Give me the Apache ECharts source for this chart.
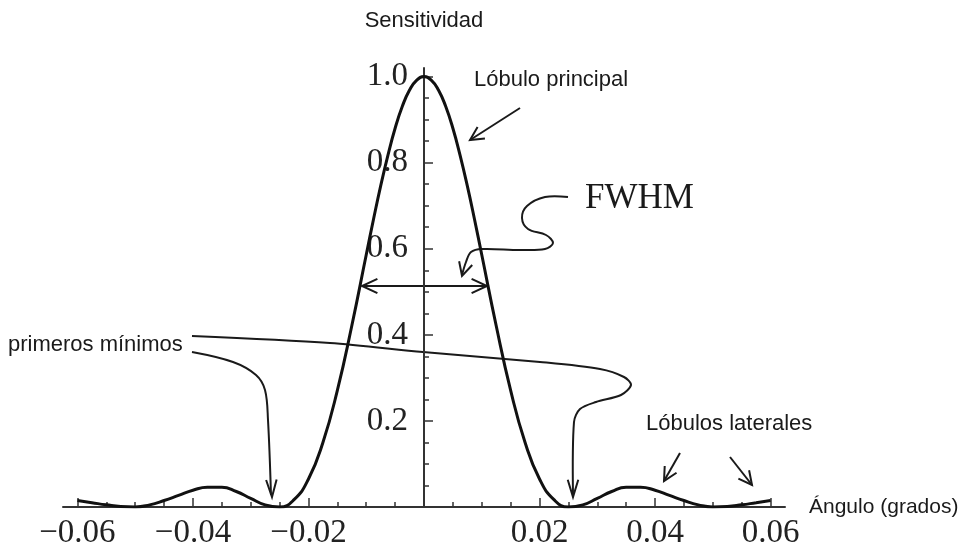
<!DOCTYPE html>
<html>
<head>
<meta charset="utf-8">
<script src="https://cdn.jsdelivr.net/npm/echarts@6/dist/echarts.min.js"></script>
<style>
  html, body { margin: 0; padding: 0; background: #ffffff; }
  #chart { width: 961px; height: 551px; }
</style>
</head>
<body>
<div id="chart"></div>
<script>
// Beam sensitivity versus off-axis angle (degrees)
const angles = [
  -0.06, -0.0575, -0.055, -0.0525, -0.05, -0.0475, -0.045, -0.0425, -0.04, -0.0375,
  -0.035, -0.0325, -0.03, -0.0275, -0.025, -0.0225, -0.02, -0.0175, -0.015, -0.0125,
  -0.01, -0.00875, -0.0075, -0.00625, -0.005, -0.00375, -0.0025, -0.00125, 0,
  0.00125, 0.0025, 0.00375, 0.005, 0.00625, 0.0075, 0.00875, 0.01,
  0.0125, 0.015, 0.0175, 0.02, 0.0225, 0.025,
  0.0275, 0.03, 0.0325, 0.035, 0.0375, 0.04, 0.0425, 0.045, 0.0475, 0.05,
  0.0525, 0.055, 0.0575, 0.06
];
const sensitivity = [
  0.015, 0.010, 0.005, 0.001, 0.000, 0.005, 0.015, 0.027, 0.039, 0.046,
  0.046, 0.036, 0.020, 0.005, 0.000, 0.017, 0.065, 0.150, 0.271, 0.421,
  0.586, 0.668, 0.746, 0.817, 0.880, 0.931, 0.969, 0.992, 1.000,
  0.992, 0.969, 0.931, 0.880, 0.817, 0.746, 0.668, 0.586,
  0.421, 0.271, 0.150, 0.065, 0.017, 0.000,
  0.005, 0.020, 0.036, 0.046, 0.046, 0.039, 0.027, 0.015, 0.005, 0.000,
  0.001, 0.005, 0.010, 0.015
];

// Axis ticks and labels
const xLabelValues = [-0.06, -0.04, -0.02, 0.02, 0.04, 0.06];
const xMajorTicks = [-0.06, -0.04, -0.02, 0.02, 0.04, 0.06];
const xMinorTicks = [
  -0.055, -0.05, -0.045, -0.035, -0.03, -0.025, -0.015, -0.01, -0.005,
  0.005, 0.01, 0.015, 0.025, 0.03, 0.035, 0.045, 0.05, 0.055
];
const yLabelValues = [0.2, 0.4, 0.6, 0.8, 1.0];
const yMajorTicks = [0.2, 0.4, 0.6, 0.8, 1.0];
const yMinorTicks = [
  0.05, 0.1, 0.15, 0.25, 0.3, 0.35, 0.45, 0.5, 0.55,
  0.65, 0.7, 0.75, 0.85, 0.9, 0.95
];

const SERIF = '"Liberation Serif", "DejaVu Serif", serif';
const SANS = '"Liberation Sans", Arial, sans-serif';
const INK = '#1a1a1a';
const AXIS = '#333333';

const X_MIN = -0.0625, X_MAX = 0.0625, Y_MIN = 0, Y_MAX = 1.02;

// Plot area
const GRID = { left: 63, right: 176, top: 68, bottom: 44 };
const CHART_W = 961;
const plotWidth = CHART_W - GRID.left - GRID.right;
// shift the vertical axis from the left edge of the plot to angle = 0
const yAxisShift = -plotWidth * (0 - X_MIN) / (X_MAX - X_MIN);

function fmtX(v) {
  return (v < 0 ? '\u2212' : '') + Math.abs(v).toFixed(2);
}

// Open chevron arrowhead at `tip`, pointing away from `from`
function chevron(tip, from, len, spreadDeg) {
  const dx = from[0] - tip[0], dy = from[1] - tip[1];
  const d = Math.hypot(dx, dy);
  const ux = dx / d, uy = dy / d;
  const a = spreadDeg * Math.PI / 180;
  const rot = (ang) => [
    tip[0] + len * (ux * Math.cos(ang) - uy * Math.sin(ang)),
    tip[1] + len * (ux * Math.sin(ang) + uy * Math.cos(ang))
  ];
  return {
    type: 'polyline', silent: true,
    shape: { points: [rot(a), tip, rot(-a)] },
    style: { stroke: INK, lineWidth: 2, fill: null, lineJoin: 'miter' }
  };
}

function curve(points, smooth) {
  return {
    type: 'polyline', silent: true,
    shape: { points: points, smooth: smooth || 0 },
    style: { stroke: INK, lineWidth: 2, fill: null }
  };
}

function label(text, x, y, font, size) {
  return {
    type: 'text', silent: true, x: x, y: y,
    style: {
      text: text, fill: INK, fontFamily: font, fontSize: size,
      align: 'left', verticalAlign: 'middle'
    }
  };
}

const annotations = [
  // Main lobe
  label('Lóbulo principal', 474, 80, SANS, 22),
  curve([[520, 108], [470, 140]]),
  chevron([470, 140], [520, 108], 15, 27),

  // FWHM pointer
  label('FWHM', 585, 199, SERIF, 35),
  curve([[568, 197], [545, 197], [527, 206], [522, 218], [528, 229], [546, 235],
         [553, 243], [545, 249], [520, 250], [482, 249], [471, 252], [466, 262], [462, 275]], 0.35),
  chevron([462, 276], [466, 262], 15, 27),

  // Full width at half maximum
  curve([[362, 286], [487, 286]]),
  chevron([362, 286], [487, 286], 17, 25),
  chevron([487, 286], [362, 286], 17, 25),

  // First minima
  label('primeros mínimos', 8, 345, SANS, 22),
  curve([[192, 336], [330, 343], [423, 352], [540, 362], [600, 369], [624, 377],
         [631, 385], [621, 395], [596, 402], [580, 409], [574, 422], [573, 495]], 0.3),
  chevron([573, 497], [573, 470], 18, 17),
  curve([[192, 352], [233, 362], [256, 375], [265, 390], [268, 420], [271, 495]], 0.35),
  chevron([272, 497], [271, 470], 18, 17),

  // Side lobes
  label('Lóbulos laterales', 646, 424, SANS, 22),
  curve([[680, 453], [664, 481]]),
  chevron([664, 481], [680, 453], 15, 27),
  curve([[730, 457], [752, 485]]),
  chevron([752, 485], [730, 457], 15, 27)
];

const chart = echarts.init(document.getElementById('chart'));
chart.setOption({
  animation: false,
  backgroundColor: '#ffffff',
  grid: {
    left: GRID.left, right: GRID.right, top: GRID.top, bottom: GRID.bottom,
    containLabel: false, outerBoundsMode: 'none'
  },
  xAxis: [
    {
      type: 'value', min: X_MIN, max: X_MAX,
      name: 'Ángulo (grados)', nameLocation: 'end', nameGap: 24,
      nameTextStyle: { fontFamily: SANS, fontSize: 21, color: INK, verticalAlign: 'middle' },
      axisLine: { show: true, onZero: true, lineStyle: { color: AXIS, width: 2 } },
      axisTick: { show: true, inside: true, length: 5, customValues: xMinorTicks,
                  lineStyle: { color: AXIS, width: 1.5 } },
      axisLabel: { show: true, customValues: xLabelValues, formatter: fmtX, margin: 10,
                   fontFamily: SERIF, fontSize: 33, color: '#222' },
      splitLine: { show: false }
    },
    {
      type: 'value', min: X_MIN, max: X_MAX, position: 'bottom',
      axisLine: { show: false, onZero: true },
      axisTick: { show: true, inside: true, length: 9, customValues: xMajorTicks,
                  lineStyle: { color: AXIS, width: 1.5 } },
      axisLabel: { show: false },
      splitLine: { show: false }
    }
  ],
  yAxis: [
    {
      type: 'value', min: Y_MIN, max: Y_MAX, position: 'left', offset: yAxisShift,
      name: 'Sensitividad', nameLocation: 'end', nameGap: 36,
      nameTextStyle: { fontFamily: SANS, fontSize: 22, color: INK },
      axisLine: { show: true, onZero: false, lineStyle: { color: AXIS, width: 2 } },
      axisTick: { show: true, inside: true, length: 9, customValues: yMajorTicks,
                  lineStyle: { color: AXIS, width: 1.5 } },
      axisLabel: { show: true, customValues: yLabelValues, formatter: (v) => v.toFixed(1),
                   margin: 16, fontFamily: SERIF, fontSize: 33, color: '#222' },
      splitLine: { show: false }
    },
    {
      type: 'value', min: Y_MIN, max: Y_MAX, position: 'left', offset: yAxisShift,
      axisLine: { show: false, onZero: false },
      axisTick: { show: true, inside: true, length: 5, customValues: yMinorTicks,
                  lineStyle: { color: AXIS, width: 1.5 } },
      axisLabel: { show: false },
      splitLine: { show: false }
    }
  ],
  series: [
    {
      type: 'line',
      xAxisIndex: 0, yAxisIndex: 0,
      data: angles.map((a, i) => [a, sensitivity[i]]),
      smooth: 0.5,
      showSymbol: false,
      lineStyle: { color: '#111111', width: 3 },
      z: 3
    }
  ],
  graphic: { elements: annotations }
});
</script>
</body>
</html>
